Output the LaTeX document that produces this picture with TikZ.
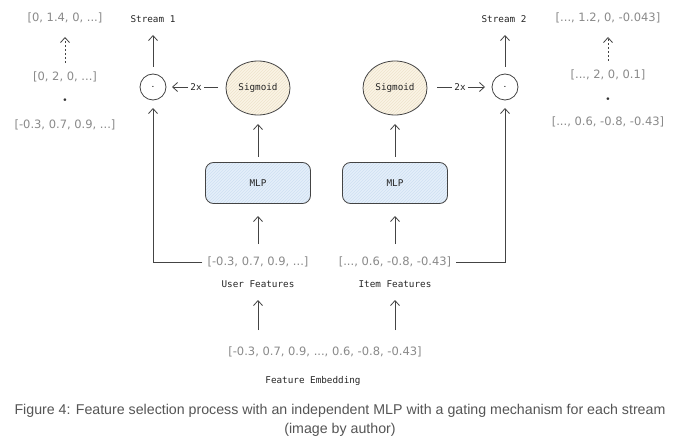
\documentclass[tikz,border=0pt]{standalone}
\usepackage{fontspec}
\setmainfont{Liberation Sans}
\newfontfamily\handfont{DejaVu Sans}
\newfontfamily\codefont{DejaVu Sans Mono}
\newfontfamily\capfont{Liberation Sans}
\usetikzlibrary{arrows.meta,patterns,shapes.geometric}
\definecolor{inkgray}{HTML}{8A8A8A}
\definecolor{linecol}{HTML}{444444}
\definecolor{sigfill}{HTML}{FAF4E6}
\definecolor{mlpfill}{HTML}{E4EFFA}
\definecolor{sighatch}{HTML}{EFE4CC}
\definecolor{mlphatch}{HTML}{CFE0F2}
\definecolor{capcol}{HTML}{555555}
\tikzset{
  vec/.style={font=\handfont\fontsize{11.5}{13}\selectfont, text=inkgray, inner sep=1pt},
  code/.style={font=\codefont\fontsize{9.3}{11}\selectfont, text=black!85, inner sep=1pt},
  conn/.style={draw=linecol, line width=0.8pt, -{Straight Barb[length=5pt,width=9pt,line width=0.8pt]}},
  plainline/.style={draw=linecol, line width=0.8pt},
  sigbox/.style={ellipse, draw=linecol, line width=0.8pt, preaction={fill=sigfill}, pattern=north east lines, pattern color=sighatch, minimum width=64pt, minimum height=54pt},
  mlpbox/.style={rectangle, rounded corners=8pt, draw=linecol, line width=0.8pt, preaction={fill=mlpfill}, pattern=north east lines, pattern color=mlphatch, minimum width=105pt, minimum height=41pt},
  dotcirc/.style={circle, draw=linecol, line width=0.8pt, minimum size=26pt, inner sep=0pt},
  captext/.style={font=\capfont\fontsize{14.2}{16}\selectfont, text=capcol},
}
\begin{document}
\begin{tikzpicture}[x=1pt,y=-1pt]
\useasboundingbox[fill=white] (0,0) rectangle (680,441);
% left annotation column
\node[vec] (l1) at (65,18) {[0, 1.4, 0, ...]};
\node[vec] (l2) at (65,77) {[0, 2, 0, ...]};
\node[vec, font=\handfont\fontsize{9}{10}\selectfont, text=black!80] (l3) at (65,101) {•};
\node[vec] (l4) at (65,125) {[-0.3, 0.7, 0.9, ...]};
\coordinate (l2t) at (65,63);
\coordinate (l1b) at (65,37);
\draw[conn, dash pattern=on 2pt off 2pt] (l2t) -- (l1b);
% right annotation column
\node[vec] (r1) at (608,18) {[..., 1.2, 0, -0.043]};
\node[vec] (r2) at (608,75) {[..., 2, 0, 0.1]};
\node[vec, font=\handfont\fontsize{9}{10}\selectfont, text=black!80] (r3) at (608,100) {•};
\node[vec] (r4) at (608,122) {[..., 0.6, -0.8, -0.43]};
\coordinate (r2t) at (608,61);
\coordinate (r1b) at (608,37);
\draw[conn, dash pattern=on 2pt off 2pt] (r2t) -- (r1b);
% streams
\node[code] (s1) at (153,19) {Stream 1};
\node[code] (s2) at (504,19) {Stream 2};
\node[dotcirc] (c1) at (153,87) {.};
\node[dotcirc] (c2) at (505,87) {.};
\coordinate (c1t) at (153,67);
\coordinate (s1b) at (153,35);
\coordinate (c2t) at (505,67);
\coordinate (s2b) at (505,35);
\draw[conn] (c1t) -- (s1b);
\draw[conn] (c2t) -- (s2b);
% sigmoids
\node[sigbox] (sg1) at (258,88) {};
\node[code] at (sg1) {Sigmoid};
\node[sigbox] (sg2) at (395,88) {};
\node[code] at (sg2) {Sigmoid};
% 2x arrows
\node[code, fill=white, inner sep=2pt] (x1) at (196,87) {2x};
\node[code, fill=white, inner sep=2pt] (x2) at (460,87) {2x};
\coordinate (sg1w) at (218,87);
\coordinate (c1e) at (172,87);
\coordinate (sg2e) at (437,87);
\coordinate (c2w) at (485,87);
\draw[plainline] (sg1w) -- (x1.east);
\draw[conn] (x1.west) -- (c1e);
\draw[plainline] (sg2e) -- (x2.west);
\draw[conn] (x2.east) -- (c2w);
% MLPs
\node[mlpbox] (m1) at (258,183) {};
\node[code] at (m1) {MLP};
\node[mlpbox] (m2) at (395,183) {};
\node[code] at (m2) {MLP};
\coordinate (m1t) at (258,157);
\coordinate (m2t) at (395,157);
\coordinate (sg1b) at (258,124);
\coordinate (sg2b) at (395,124);
\draw[conn] (m1t) -- (sg1b);
\draw[conn] (m2t) -- (sg2b);
% features
\node[vec] (uf) at (258,262) {[-0.3, 0.7, 0.9, ...]};
\node[vec] (if) at (395,262) {[..., 0.6, -0.8, -0.43]};
\node[code] (ufl) at (258,284) {User Features};
\node[code] (ifl) at (395,284) {Item Features};
\coordinate (uft) at (258,244);
\coordinate (ift) at (395,244);
\coordinate (m1b) at (258,216);
\coordinate (m2b) at (395,216);
\draw[conn] (uft) -- (m1b);
\draw[conn] (ift) -- (m2b);
\coordinate (lc) at (153,262);
\coordinate (rc) at (505,262);
\coordinate (c1b) at (153,108);
\coordinate (c2b) at (505,108);
\draw[conn] ([xshift=-4pt]uf.west) -- (lc) -- (c1b);
\draw[conn] ([xshift=4pt]if.east) -- (rc) -- (c2b);
% embedding
\node[vec] (fe) at (325,352) {[-0.3, 0.7, 0.9, ..., 0.6, -0.8, -0.43]};
\node[code] (fel) at (313,381) {Feature Embedding};
\coordinate (fe1) at (258,330);
\coordinate (fe2) at (395,330);
\coordinate (ufb) at (258,300);
\coordinate (ifb) at (395,300);
\draw[conn] (fe1) -- (ufb);
\draw[conn] (fe2) -- (ifb);
% caption
\node[captext] (cap1) at (340,411) {Figure 4: Feature selection process with an independent MLP with a gating mechanism for each stream};
\node[captext] (cap2) at (340,430) {(image by author)};
\end{tikzpicture}
\end{document}
